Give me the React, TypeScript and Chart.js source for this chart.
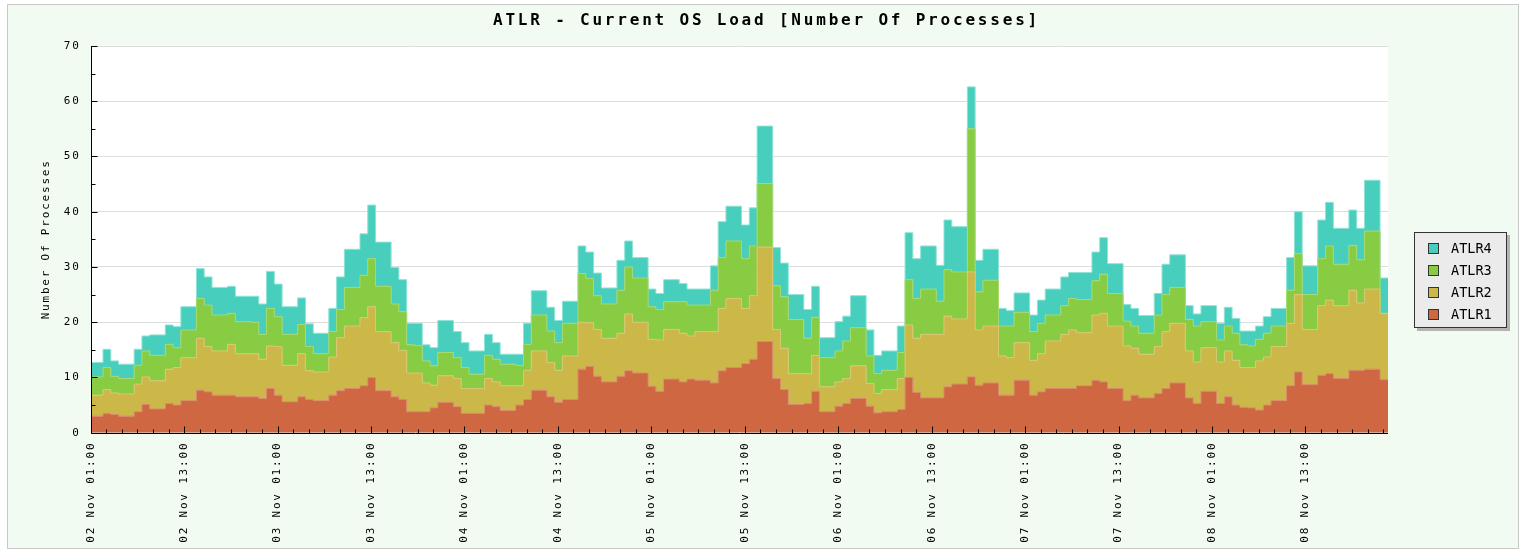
import React, { useEffect, useRef } from 'react';
import { Chart, registerables } from 'chart.js';

Chart.register(...registerables);

const chartTitle = 'ATLR - Current OS Load [Number Of Processes]';
const yAxisTitle = 'Number Of Processes';
const seriesNames = ['ATLR1', 'ATLR2', 'ATLR3', 'ATLR4'];
const seriesColors = ['#CE6742', '#CCB849', '#88CC44', '#48CEBC'];
const seriesEdges = ['#D98A6C', '#D9C873', '#A4DA70', '#8FE3D7'];

const xTickLabels = [
  '02 Nov 01:00', '02 Nov 13:00', '03 Nov 01:00', '03 Nov 13:00', '04 Nov 01:00',
  '04 Nov 13:00', '05 Nov 01:00', '05 Nov 13:00', '06 Nov 01:00', '06 Nov 13:00',
  '07 Nov 01:00', '07 Nov 13:00', '08 Nov 01:00', '08 Nov 13:00',
];

// hourly samples (the first at the axis start, the others at hh:35)
const atlr1 = [
  3.0, 3.5, 3.3, 3.0, 3.0, 3.8, 5.1, 4.3, 4.3, 5.3,
  5.0, 5.8, 5.8, 7.7, 7.4, 6.8, 6.8, 6.8, 6.5, 6.5,
  6.5, 6.2, 8.0, 6.8, 5.6, 5.6, 6.5, 6.0, 5.8, 5.8,
  6.8, 7.6, 8.0, 8.0, 8.5, 10.0, 7.6, 7.6, 6.5, 6.0,
  3.8, 3.8, 3.8, 4.5, 5.5, 5.5, 4.7, 3.5, 3.5, 3.5,
  5.0, 4.7, 4.0, 4.0, 5.0, 6.0, 7.7, 7.7, 6.5, 5.5,
  6.0, 6.0, 11.5, 12.0, 10.2, 9.2, 9.2, 10.2, 11.2, 10.8,
  10.8, 8.4, 7.5, 9.7, 9.7, 9.2, 9.7, 9.5, 9.5, 9.0,
  11.2, 11.8, 11.8, 12.5, 13.3, 16.5, 16.5, 9.8, 7.8, 5.1,
  5.1, 5.3, 7.5, 3.8, 3.8, 4.8, 5.3, 6.2, 6.2, 4.8,
  3.6, 3.8, 3.8, 4.2, 10.0, 7.3, 6.3, 6.3, 6.3, 8.3,
  8.8, 8.8, 10.1, 8.6, 9.0, 9.0, 6.8, 6.8, 9.5, 9.5,
  6.8, 7.4, 8.0, 8.0, 8.0, 8.0, 8.5, 8.5, 9.5, 9.2,
  8.0, 8.0, 5.8, 6.8, 6.3, 6.3, 7.1, 8.0, 9.0, 9.0,
  6.3, 5.3, 7.5, 7.5, 5.3, 6.5, 5.0, 4.6, 4.5, 4.1,
  5.0, 5.8, 5.8, 8.5, 11.0, 8.7, 8.7, 10.4, 10.7, 9.8,
  9.8, 11.3, 11.3, 11.5, 11.5, 9.6,
];
const atlr2 = [
  3.8, 4.3, 3.9, 4.0, 4.0, 5.0, 5.0, 5.1, 5.1, 6.2,
  6.8, 7.8, 7.8, 9.4, 8.2, 8.0, 8.0, 9.2, 7.8, 7.8,
  7.8, 7.1, 7.7, 8.8, 6.6, 6.6, 7.8, 5.2, 5.2, 5.2,
  6.9, 9.6, 11.3, 11.3, 12.3, 12.8, 10.7, 10.7, 9.8, 8.9,
  7.0, 7.0, 5.2, 4.1, 4.8, 4.8, 5.1, 4.5, 4.5, 4.5,
  4.8, 4.5, 4.5, 4.5, 3.5, 5.3, 7.1, 7.1, 6.2, 5.8,
  7.9, 7.9, 8.5, 7.9, 8.5, 7.9, 7.9, 7.8, 10.3, 9.2,
  9.2, 8.5, 9.3, 9.0, 9.0, 8.8, 7.8, 8.8, 8.8, 9.3,
  11.3, 12.5, 12.5, 10.0, 11.5, 17.1, 17.1, 8.9, 7.5, 5.6,
  5.6, 5.4, 6.5, 4.5, 4.5, 4.4, 4.5, 5.9, 5.9, 4.1,
  3.5, 4.0, 4.0, 5.6, 9.5, 9.8, 11.5, 11.5, 11.5, 12.8,
  11.8, 11.8, 19.0, 10.0, 10.3, 10.3, 7.1, 6.8, 6.8, 6.8,
  6.3, 6.9, 8.6, 8.6, 9.8, 10.6, 9.6, 9.6, 11.8, 12.4,
  11.3, 11.3, 9.9, 8.5, 7.9, 7.9, 8.5, 10.3, 10.8, 10.8,
  8.5, 7.5, 7.9, 7.9, 7.5, 8.3, 8.1, 7.2, 7.3, 8.9,
  8.7, 9.8, 9.8, 11.3, 14.0, 10.0, 10.0, 12.6, 13.3, 13.2,
  13.2, 14.5, 12.2, 14.5, 14.5, 12.0,
];
const atlr3 = [
  3.3, 4.0, 3.0, 2.8, 2.8, 3.4, 4.7, 4.6, 4.6, 4.5,
  3.6, 5.0, 5.0, 7.2, 7.5, 6.5, 6.5, 5.6, 5.8, 5.8,
  5.7, 4.5, 6.8, 5.4, 5.6, 5.6, 5.3, 4.4, 3.3, 3.3,
  4.6, 5.1, 7.0, 7.0, 7.7, 8.7, 8.2, 8.2, 7.0, 7.0,
  5.1, 5.0, 4.0, 3.5, 4.2, 4.2, 3.8, 3.8, 2.6, 2.6,
  4.2, 4.1, 3.9, 3.9, 3.7, 4.7, 6.5, 6.5, 5.7, 5.0,
  5.9, 5.9, 8.8, 8.0, 6.1, 6.2, 6.2, 7.8, 8.5, 8.0,
  8.0, 5.9, 5.5, 5.0, 5.0, 5.7, 5.6, 4.8, 4.8, 7.5,
  9.2, 10.4, 10.4, 9.0, 9.0, 11.5, 11.5, 7.9, 9.3, 9.8,
  9.8, 6.4, 6.9, 5.3, 5.3, 5.6, 6.8, 6.9, 6.9, 5.0,
  3.6, 3.5, 3.5, 4.7, 8.2, 7.2, 8.2, 8.2, 6.0, 8.4,
  8.5, 8.5, 25.9, 6.9, 8.3, 8.3, 5.4, 5.7, 5.5, 5.5,
  5.2, 5.5, 4.7, 4.7, 5.2, 5.7, 6.0, 6.0, 6.2, 7.1,
  5.9, 5.9, 4.5, 4.0, 3.8, 3.8, 5.7, 6.7, 6.5, 6.5,
  5.7, 6.5, 4.7, 4.7, 4.0, 4.5, 4.9, 4.1, 3.9, 3.9,
  4.3, 3.7, 3.7, 6.0, 7.4, 6.3, 6.3, 8.5, 9.8, 7.5,
  7.5, 8.1, 7.8, 10.5, 10.5, 0,
];
const atlr4 = [
  2.6, 3.3, 2.8, 2.6, 2.6, 2.9, 2.7, 3.7, 3.7, 3.5,
  3.8, 4.2, 4.2, 5.4, 5.1, 5.0, 5.0, 4.9, 4.6, 4.6,
  4.7, 5.5, 6.7, 5.9, 5.0, 5.0, 4.8, 4.1, 3.7, 3.7,
  4.2, 5.9, 6.9, 6.9, 7.5, 9.7, 8.0, 8.0, 6.6, 5.8,
  3.9, 4.0, 2.9, 3.3, 5.8, 5.8, 4.7, 4.5, 4.2, 4.2,
  3.8, 3.0, 1.8, 1.8, 2.0, 3.8, 4.4, 4.4, 4.3, 4.0,
  4.0, 4.0, 5.0, 4.8, 4.1, 2.9, 2.9, 5.4, 4.7, 3.7,
  3.7, 3.2, 2.9, 4.0, 4.0, 3.3, 2.9, 2.9, 2.9, 4.4,
  6.5, 6.3, 6.3, 6.1, 6.9, 10.4, 10.4, 6.9, 6.1, 4.5,
  4.5, 5.2, 5.6, 3.6, 3.6, 5.3, 4.5, 5.8, 5.8, 4.7,
  3.3, 3.5, 3.5, 4.8, 8.5, 7.2, 7.8, 7.8, 6.5, 9.0,
  8.2, 8.2, 7.6, 5.7, 5.6, 5.6, 3.2, 2.8, 3.5, 3.5,
  3.0, 4.2, 4.7, 4.7, 5.2, 4.7, 4.9, 4.9, 5.2, 6.6,
  5.4, 5.4, 3.0, 3.2, 3.2, 3.2, 3.9, 5.5, 5.9, 5.9,
  2.5, 2.2, 2.9, 2.9, 3.0, 3.4, 2.7, 2.5, 2.7, 2.4,
  3.0, 3.2, 3.2, 5.9, 7.6, 5.2, 5.2, 7.0, 7.9, 6.5,
  6.5, 6.4, 5.7, 9.2, 9.2, 6.4,
];

const seriesValues = [atlr1, atlr2, atlr3, atlr4];

const SAMPLE_OFFSET_HOURS = 0.58; // samples taken at hh:35
const AXIS_END_HOURS = 166.6;
const LABEL_STEP_HOURS = 12;
const MINOR_TICK_HOURS = 2;

const FONT = 'DejaVu Sans Mono';

function toPoints(values: number[]) {
  const pts = values.map((v, i) => ({ x: i === 0 ? 0 : i + SAMPLE_OFFSET_HOURS, y: v }));
  pts.push({ x: AXIS_END_HOURS, y: values[values.length - 1] });
  return pts;
}

const decorPlugin = {
  id: 'decor',
  beforeDraw(chart: any) {
    const { ctx, chartArea: a } = chart;
    ctx.letterSpacing = '1.8px';
    ctx.save();
    ctx.fillStyle = '#FFFFFF';
    ctx.fillRect(a.left, a.top, a.right - a.left, a.bottom - a.top);
    ctx.restore();
  },
  afterDatasetsDraw(chart: any) {
    const { ctx, chartArea: a, scales } = chart;
    const x = scales.x;
    const y = scales.y;
    const L = Math.round(a.left) + 0.5;
    const B = Math.round(a.bottom) + 0.5;
    ctx.save();
    ctx.strokeStyle = '#000000';
    ctx.lineWidth = 1;
    ctx.beginPath();
    ctx.moveTo(L, a.top);
    ctx.lineTo(L, B);
    ctx.lineTo(a.right, B);
    for (let v = 0; v <= 70; v += 5) {
      const py = Math.round(y.getPixelForValue(v)) + 0.5;
      const len = v % 10 === 0 ? 6 : 4;
      ctx.moveTo(L, py);
      ctx.lineTo(L + len, py);
    }
    for (let h = MINOR_TICK_HOURS; h < AXIS_END_HOURS; h += MINOR_TICK_HOURS) {
      const px = Math.round(x.getPixelForValue(h)) + 0.5;
      const len = h % LABEL_STEP_HOURS === 0 ? 7 : 4;
      ctx.moveTo(px, B);
      ctx.lineTo(px, B - len);
    }
    ctx.stroke();
    ctx.restore();
  },
};

export default function App() {
  const ref = useRef<HTMLCanvasElement | null>(null);

  useEffect(() => {
    document.body.style.margin = '0';
    const canvas = ref.current;
    if (!canvas) return;
    const datasets = seriesValues.map((vals, i) => ({
      label: seriesNames[i],
      data: toPoints(vals),
      stepped: true,
      fill: i === 0 ? 'origin' : '-1',
      backgroundColor: seriesColors[i],
      borderColor: seriesEdges[i],
      borderWidth: 1,
      pointRadius: 0,
      pointHoverRadius: 0,
    }));
    const chart = new Chart(canvas, {
      type: 'line',
      data: { datasets: datasets as any },
      plugins: [decorPlugin],
      options: {
        animation: false,
        responsive: false,
        devicePixelRatio: 1,
        layout: { padding: { left: 40, right: 137, top: 46, bottom: 0 } },
        plugins: {
          legend: { display: false },
          title: { display: false },
          tooltip: { enabled: false },
        },
        scales: {
          x: {
            type: 'linear',
            min: 0,
            max: AXIS_END_HOURS,
            afterBuildTicks: (s: any) => {
              s.ticks = xTickLabels.map((_, i) => ({ value: i * LABEL_STEP_HOURS }));
            },
            afterFit: (s: any) => {
              s.height = 121.3;
            },
            grid: { display: false },
            border: { display: false },
            ticks: {
              autoSkip: false,
              maxRotation: 90,
              minRotation: 90,
              padding: 1,
              color: '#000000',
              font: { family: FONT, size: 11 },
              callback: (_v: any, i: number) => xTickLabels[i],
            },
          },
          y: {
            stacked: true,
            min: 0,
            max: 70,
            afterFit: (s: any) => {
              s.width = 50.7;
            },
            grid: { color: '#DDDDDD', drawTicks: false },
            border: { display: false },
            ticks: {
              stepSize: 10,
              padding: 10,
              color: '#000000',
              font: { family: FONT, size: 11 },
            },
            title: {
              display: true,
              text: yAxisTitle,
              color: '#000000',
              font: { family: FONT, size: 11 },
              padding: 0,
            },
          },
        },
      } as any,
    });
    return () => chart.destroy();
  }, []);

  const legendRows = [3, 2, 1, 0];

  return (
    <div style={{ position: 'fixed', left: 0, top: 0, width: 1525, height: 554, background: '#FFFFFF', overflow: 'hidden' }}>
      <div
        style={{
          position: 'absolute', left: 7, top: 4, width: 1512, height: 545,
          border: '1px solid #C9C9C9', background: '#F1FBF1', boxSizing: 'border-box',
        }}
      />
      <canvas ref={ref} width={1525} height={554} style={{ position: 'absolute', left: 0, top: 0, width: 1525, height: 554 }} />
      <div
        style={{
          position: 'absolute', left: 0, top: 10, width: 1533, textAlign: 'center',
          fontFamily: FONT, fontWeight: 'bold', fontSize: 16, letterSpacing: '2.8px',
          lineHeight: '20px', color: '#000000', whiteSpace: 'nowrap',
        }}
      >
        {chartTitle}
      </div>
      <div
        style={{
          position: 'absolute', left: 1414, top: 232, width: 93, height: 96,
          border: '1px solid #333333', background: '#EBEBEB', boxSizing: 'border-box',
          boxShadow: '3px 3px 0 #B4B4B4',
        }}
      >
        {legendRows.map((si, r) => (
          <div key={si} style={{ position: 'absolute', left: 0, top: 6 + r * 22, height: 18, width: 91 }}>
            <div
              style={{
                position: 'absolute', left: 13, top: 4, width: 11, height: 11,
                background: seriesColors[si], border: '1px solid #333333', boxSizing: 'border-box',
              }}
            />
            <div
              style={{
                position: 'absolute', left: 36, top: 0, lineHeight: '18px', fontFamily: FONT,
                fontSize: 13.5, color: '#000000', whiteSpace: 'nowrap',
              }}
            >
              {seriesNames[si]}
            </div>
          </div>
        ))}
      </div>
    </div>
  );
}
